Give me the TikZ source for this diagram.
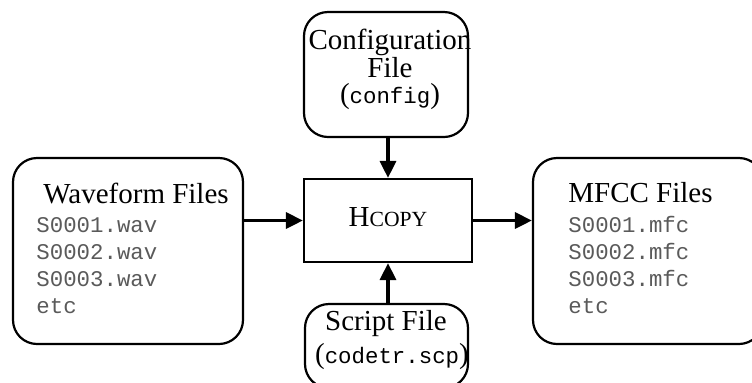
\documentclass[tikz,border=0pt]{standalone}
\usepackage{fontspec}
\setmainfont{Liberation Serif}
\setmonofont{Liberation Mono}
\usetikzlibrary{arrows.meta}
\definecolor{listgray}{HTML}{5A5A5A}

\begin{document}
\begin{tikzpicture}[x=0.5pt,y=-0.5pt,
    filebox/.style={draw,line width=1.1pt,rounded corners=12pt,inner sep=0pt},
    progbox/.style={draw,line width=1.1pt,inner sep=0pt},
    title/.style={inner sep=0pt,font=\fontsize{14.5}{16}\selectfont},
    listtext/.style={inner sep=0pt,text=listgray,font=\fontsize{11.2}{13}\ttfamily},
    flow/.style={line width=1.6pt,-{Triangle[length=8.5pt,width=8pt]}}]
\useasboundingbox (0,0) rectangle (752,382);
% boxes
\node[filebox,minimum width=115pt,minimum height=93pt] (wave) at (128,251) {};
\node[filebox,minimum width=115pt,minimum height=93pt] (mfcc) at (648,251) {};
\node[filebox,minimum width=82pt,minimum height=62.5pt] (config) at (386,74.5) {};
\node[filebox,minimum width=81.5pt,minimum height=42pt] (script) at (386.5,346) {};
\node[progbox,minimum width=84pt,minimum height=41.5pt] (hcopy) at (388,220.5) {};
% texts
\node[title,anchor=base] (conf1) at (390,49) {Configuration};
\node[title,anchor=base] (conf2) at (390,77) {File};
\node[title,anchor=base] (conf3) at (390,103) {({\fontsize{11.2}{13}\ttfamily config})};
\node[title,anchor=base] (hcopytext) at (388,226) {H{\fontsize{10.8}{12}\selectfont COPY}};
\node[title,anchor=base] (scr1) at (386,330) {Script File};
\node[title,anchor=base] (scr2) at (392,363) {({\fontsize{11.2}{13}\ttfamily codetr.scp})};
\node[title,anchor=base west] (wavetitle) at (43,203) {Waveform Files};
\node[title,anchor=base west] (mfcctitle) at (568,202) {MFCC Files};
\foreach \n [count=\i] in {1,2,3} {
    \node[listtext,anchor=base west] (wav\i) at (36,{232+27*(\i-1)}) {S000\n.wav};
    \node[listtext,anchor=base west] (mfc\i) at (568,{232+27*(\i-1)}) {S000\n.mfc};
}
\node[listtext,anchor=base west] (wavetc) at (36,313) {etc};
\node[listtext,anchor=base west] (mfcetc) at (568,313) {etc};
% arrows
\draw[flow] (config.south -| hcopy) -- (hcopy.north);
\draw[flow] (script.north -| hcopy) -- (hcopy.south);
\draw[flow] (wave.east |- hcopy) -- (hcopy.west);
\draw[flow] (hcopy.east) -- (mfcc.west |- hcopy);
\end{tikzpicture}
\end{document}
